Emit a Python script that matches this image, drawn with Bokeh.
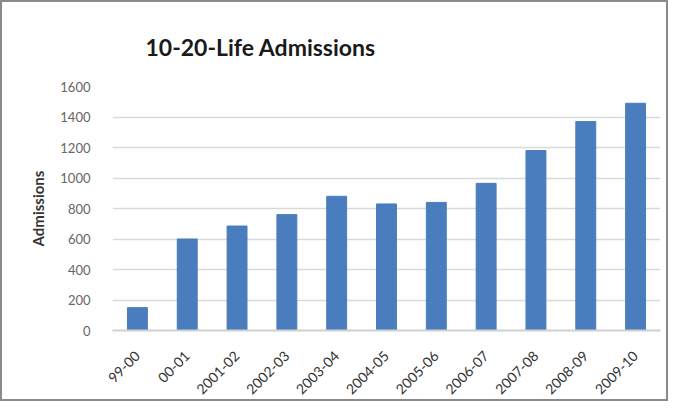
import math
from bokeh.plotting import figure
from bokeh.models import Range1d, FactorRange, FixedTicker
from bokeh.embed import file_html
from bokeh.resources import INLINE

years = ["99-00", "00-01", "2001-02", "2002-03", "2003-04", "2004-05",
         "2005-06", "2006-07", "2007-08", "2008-09", "2009-10"]
admissions = [150, 600, 685, 760, 880, 830, 840, 965, 1180, 1370, 1490]
y_ticks = [0, 200, 400, 600, 800, 1000, 1200, 1400, 1600]

p = figure(width=668, height=401, x_range=FactorRange(*years),
           y_range=Range1d(0, 1600), output_backend="svg",
           toolbar_location=None, title="10-20-Life Admissions")

p.styles = {"border": "2px solid #8a8a8a"}

p.vbar(x=years, top=admissions, width=0.4, color="#4a7dbd")

p.min_border_left = 110
p.min_border_right = 10
p.min_border_top = 84
p.min_border_bottom = 73

p.outline_line_color = None

p.title.text_font = "Lato"
p.title.text_font_size = "23px"
p.title.text_font_style = "bold"
p.title.text_color = "#1a1a1a"
p.title.align = "left"
p.title.offset = 33
p.title.standoff = 51

p.yaxis.ticker = FixedTicker(ticks=y_ticks)
p.yaxis.axis_label = "Admissions"
p.yaxis.axis_label_text_font = "Lato"
p.yaxis.axis_label_text_font_style = "bold"
p.yaxis.axis_label_text_font_size = "15px"
p.yaxis.axis_label_text_color = "#333333"
p.yaxis.axis_label_standoff = 10
p.yaxis.major_label_text_font = "Lato"
p.yaxis.major_label_text_font_size = "13px"
p.yaxis.major_label_text_color = "#666666"
p.yaxis.axis_line_color = None
p.yaxis.major_tick_line_color = None
p.yaxis.minor_tick_line_color = None
p.yaxis.major_label_standoff = 16

p.xaxis.major_label_orientation = math.pi / 4
p.xaxis.major_label_text_font = "Lato"
p.xaxis.major_label_text_font_size = "14px"
p.xaxis.major_label_text_color = "#333333"
p.xaxis.axis_line_color = "#d0d0d0"
p.xaxis.axis_line_width = 2
p.xaxis.major_tick_line_color = None
p.xaxis.minor_tick_line_color = None
p.xaxis.major_label_standoff = 17

p.xgrid.grid_line_color = None
p.ygrid.grid_line_color = "#d9d9d9"
p.ygrid.grid_line_width = 1.5

open("out.html", "w").write(file_html(p, INLINE))
